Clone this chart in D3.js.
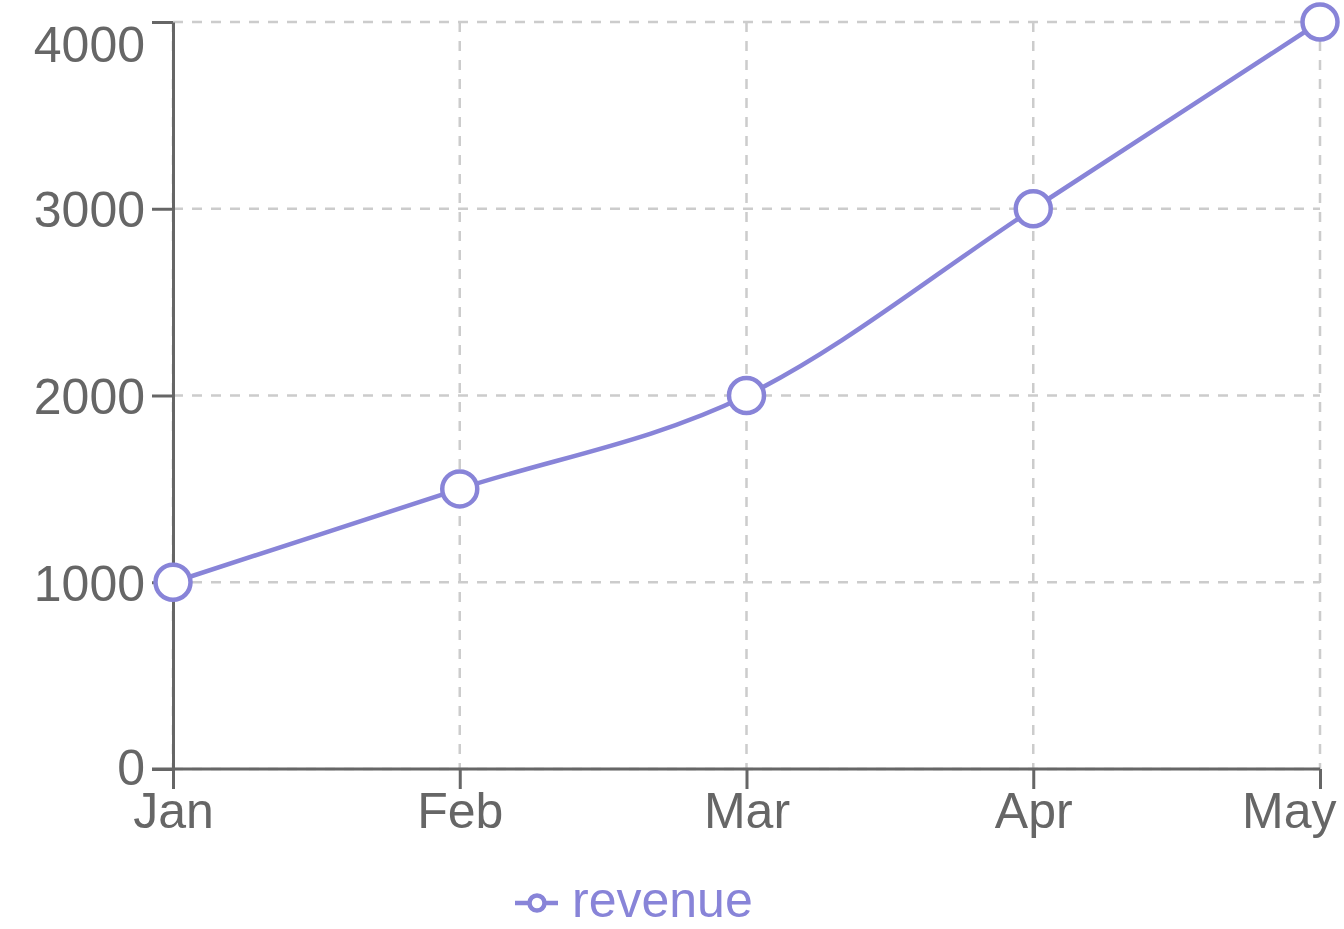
<!DOCTYPE html>
<html>
<head>
<meta charset="utf-8">
<script src="https://cdn.jsdelivr.net/npm/d3@7"></script>
<style>
  html, body { margin: 0; padding: 0; background: #fff; }
  svg { display: block; font-family: "Liberation Sans", Arial, sans-serif; }
</style>
</head>
<body>
<svg id="chart" width="1344" height="929"></svg>
<script>
// Monthly revenue
const months = ["Jan", "Feb", "Mar", "Apr", "May"];
const revenue = [1000, 1500, 2000, 3000, 4000];
const yTicks = [0, 1000, 2000, 3000, 4000];
const seriesName = "revenue";

const lineColor = "#8884d8";
const axisColor = "#666";
const gridColor = "#ccc";
const fontSize = 50;

const svg = d3.select("#chart");
const plot = { left: 173, right: 1320, top: 22, bottom: 769 };

const x = d3.scalePoint().domain(months).range([plot.left, plot.right]);
const y = d3.scaleLinear().domain([0, 4000]).range([plot.bottom, plot.top]);

// Dashed grid
const grid = svg.append("g").attr("stroke", gridColor).attr("stroke-width", 2.5)
  .attr("stroke-dasharray", "10 9").attr("fill", "none");
grid.selectAll("line.h").data(yTicks).join("line").attr("class", "h")
  .attr("x1", plot.left).attr("x2", plot.right)
  .attr("y1", d => y(d)).attr("y2", d => y(d));
grid.selectAll("line.v").data(months).join("line").attr("class", "v")
  .attr("x1", d => x(d)).attr("x2", d => x(d))
  .attr("y1", plot.top).attr("y2", plot.bottom);

// Y axis
const yAxis = d3.axisLeft(y).tickValues(yTicks).tickFormat(d3.format("d"))
  .tickSize(21).tickPadding(7).tickSizeOuter(0);
const gy = svg.append("g").attr("transform", `translate(${plot.left},0)`).call(yAxis);
gy.select(".domain").attr("stroke", axisColor).attr("stroke-width", 3);
gy.selectAll(".tick line").attr("stroke", axisColor).attr("stroke-width", 3);
gy.selectAll(".tick text")
  .attr("fill", axisColor).attr("font-size", fontSize)
  .attr("font-family", "Liberation Sans, Arial, sans-serif")
  .attr("dy", d => d === 4000 ? "0.78em" : (d === 0 ? "0.3em" : "0.36em"));

// X axis
const xAxis = d3.axisBottom(x).tickSize(20).tickPadding(3).tickSizeOuter(0);
const gx = svg.append("g").attr("transform", `translate(0,${plot.bottom})`).call(xAxis);
gx.select(".domain").attr("stroke", axisColor).attr("stroke-width", 3)
  .attr("d", `M${plot.left - 21},0H${plot.right}`);
gx.selectAll(".tick line").attr("stroke", axisColor).attr("stroke-width", 3);
gx.selectAll(".tick text")
  .attr("fill", axisColor).attr("font-size", fontSize)
  .attr("font-family", "Liberation Sans, Arial, sans-serif")
  .attr("dy", "0.71em")
  .attr("text-anchor", (d, i) => i === months.length - 1 ? "end" : "middle")
  .attr("x", (d, i) => i === months.length - 1 ? 16 : 0);

// Line
const data = months.map((m, i) => ({ m, v: revenue[i] }));
const line = d3.line().x(d => x(d.m)).y(d => y(d.v)).curve(d3.curveMonotoneX);
svg.append("path").datum(data)
  .attr("d", line).attr("fill", "none")
  .attr("stroke", lineColor).attr("stroke-width", 4.5);

svg.append("g").selectAll("circle").data(data).join("circle")
  .attr("cx", d => x(d.m)).attr("cy", d => y(d.v)).attr("r", 17.5)
  .attr("fill", "#fff").attr("stroke", lineColor).attr("stroke-width", 4.5);

// Legend
const legend = svg.append("g").attr("transform", "translate(515,903)");
legend.append("line").attr("x1", 0).attr("x2", 43).attr("y1", 0).attr("y2", 0)
  .attr("stroke", lineColor).attr("stroke-width", 4.5);
legend.append("circle").attr("cx", 22).attr("cy", 0).attr("r", 7.5)
  .attr("fill", "#fff").attr("stroke", lineColor).attr("stroke-width", 4.5);
legend.append("text").attr("x", 57).attr("y", 14)
  .attr("fill", lineColor).attr("font-size", fontSize)
  .text(seriesName);
</script>
</body>
</html>
